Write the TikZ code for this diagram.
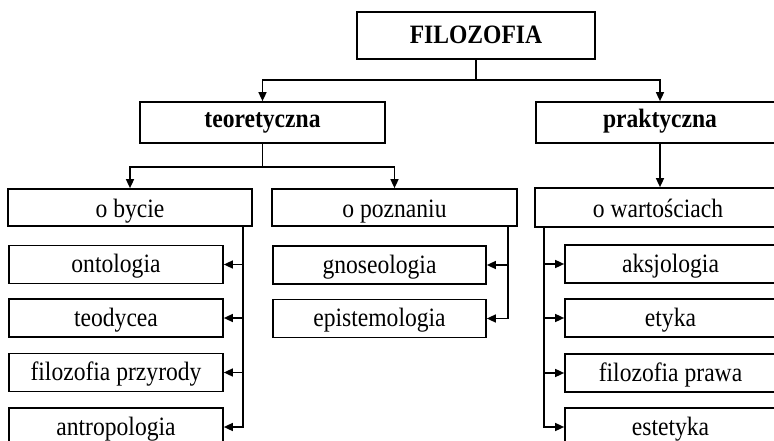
\documentclass[tikz,border=0pt]{standalone}
\usepackage{fontspec}
\setmainfont{Liberation Serif}[FakeStretch=0.89]
\usetikzlibrary{arrows.meta,calc}
\begin{document}
\begin{tikzpicture}[x=1pt,y=-1pt,
  box/.style={draw,line width=1.7pt,rectangle,inner sep=0pt,font=\fontsize{26.5}{30}\selectfont,text height=21pt,text depth=5pt},
  hbox/.style={box,font=\fontsize{26.5}{30}\selectfont\bfseries},
  ibox/.style={box,text height=23pt,text depth=2pt},
  lbox/.style={box,minimum width=214pt,minimum height=38pt},
  mbox/.style={box,minimum width=213pt,minimum height=38pt},
  rbox/.style={box,minimum width=211pt,minimum height=38pt},
  conn/.style={line width=1.5pt},
  arr/.style={conn,-{Triangle[length=9pt,width=8pt]}}]
\useasboundingbox (0,0) rectangle (774,441);
\clip (0,0) rectangle (774,441);
% level 0
\node[hbox,minimum width=238pt,minimum height=47pt,text height=20pt,text depth=4pt] (filo) at (476,35.5) {FILOZOFIA};
% level 1
\node[hbox,minimum width=245pt,minimum height=41pt,text height=18pt,text depth=7pt] (teo) at (262.5,122.5) {teoretyczna};
\node[hbox,minimum width=248pt,minimum height=41pt,text height=18pt,text depth=7pt] (prak) at (660,122.5) {praktyczna};
% level 2
\node[ibox,minimum width=244pt,minimum height=37pt] (bycie) at (130,207.5) {o bycie};
\node[ibox,minimum width=245pt,minimum height=37pt] (pozn) at (394.5,207.5) {o poznaniu};
\node[ibox,minimum width=246pt,minimum height=39pt] (wart) at (658,207.5) {o wartościach};
% level 3 left
\node[lbox] (onto) at (116,264.5) {ontologia};
\node[lbox] (teod) at (116,318) {teodycea};
\node[lbox] (przyr) at (116,372.5) {filozofia przyrody};
\node[lbox] (antro) at (116,427) {antropologia};
% level 3 middle
\node[mbox] (gnos) at (379.5,265) {gnoseologia};
\node[mbox] (epis) at (379.5,318.5) {epistemologia};
% level 3 right
\node[rbox] (aks) at (670.5,264) {aksjologia};
\node[rbox] (ety) at (670.5,318) {etyka};
\node[rbox] (praw) at (670.5,373) {filozofia prawa};
\node[rbox] (este) at (670.5,427) {estetyka};
% junctions
\coordinate (fj) at ($(filo.south)+(0,20)$);
\coordinate (tj) at ($(teo.south)+(0,23)$);
\coordinate (bj) at ($(bycie.south east)+(-10,0)$);
\coordinate (pj) at ($(pozn.south east)+(-10,0)$);
\coordinate (wj) at ($(wart.south west)+(10,0)$);
% connectors
\draw[conn] (filo.south) -- (fj);
\draw[arr] (fj) -| (teo.north);
\draw[arr] (fj) -| (prak.north);
\draw[conn] (teo.south) -- (tj);
\draw[arr] (tj) -| (bycie.north);
\draw[arr] (tj) -| (pozn.north);
\draw[arr] (prak.south) -- (prak.south |- wart.north);
\draw[arr] (bj) |- (onto.east);
\draw[arr] (bj) |- (teod.east);
\draw[arr] (bj) |- (przyr.east);
\draw[arr] (bj) |- (antro.east);
\draw[arr] (pj) |- (gnos.east);
\draw[arr] (pj) |- (epis.east);
\draw[arr] (wj) |- (aks.west);
\draw[arr] (wj) |- (ety.west);
\draw[arr] (wj) |- (praw.west);
\draw[arr] (wj) |- (este.west);
\end{tikzpicture}
\end{document}
